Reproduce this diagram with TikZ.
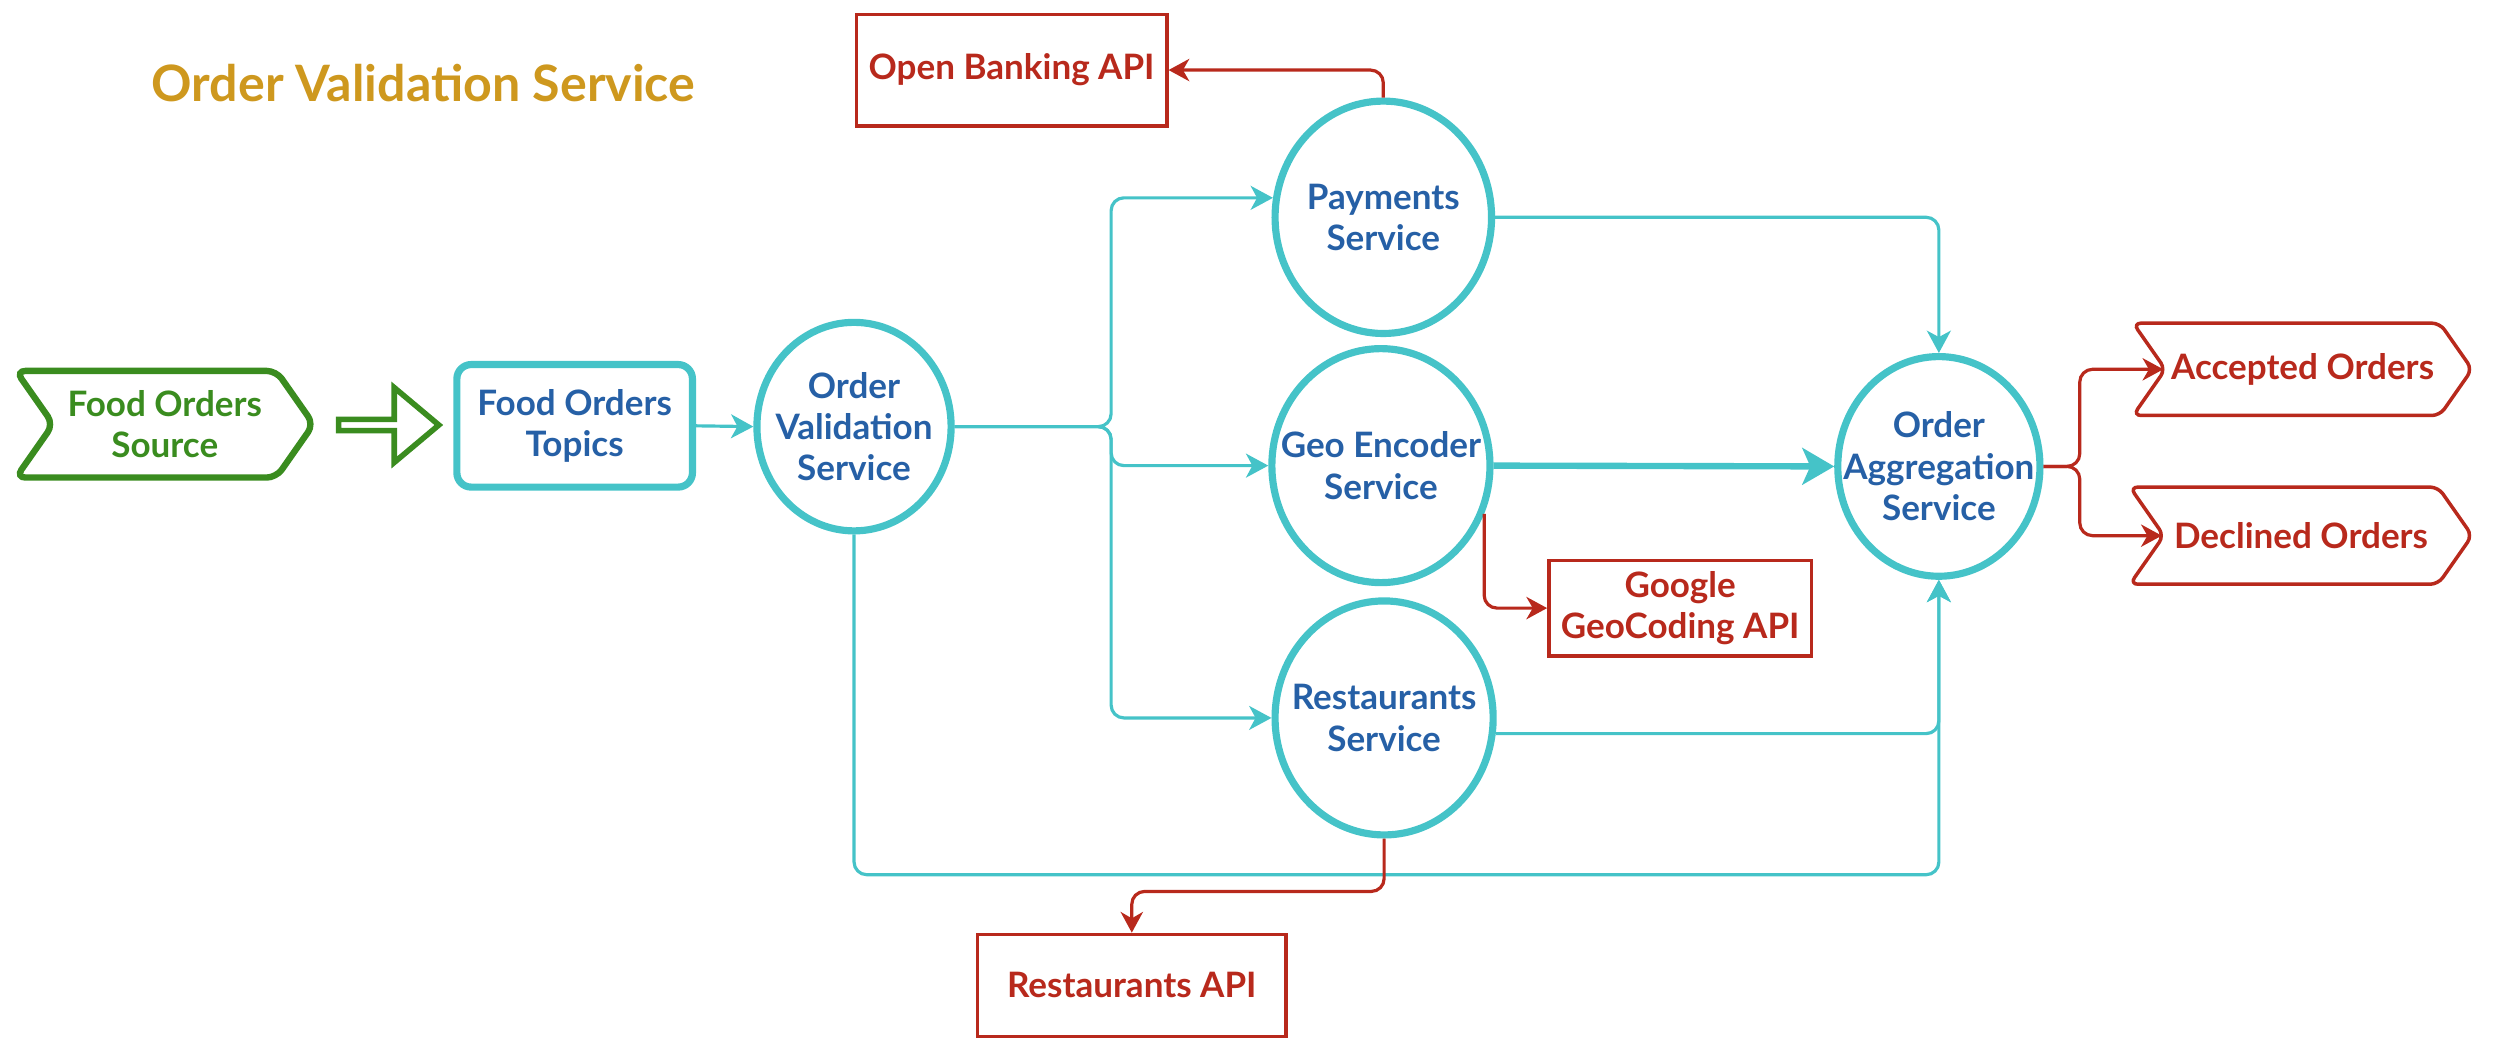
\documentclass[tikz,border=0pt]{standalone}
\usepackage{fontspec}
\setmainfont{Lato}
\usetikzlibrary{shapes.geometric,shapes.symbols,shapes.arrows,arrows.meta,calc}
\definecolor{streamteal}{HTML}{45C3C8}
\definecolor{labelblue}{HTML}{2660A6}
\definecolor{apired}{HTML}{B8291C}
\definecolor{sourcegreen}{HTML}{3A8C1F}
\definecolor{titlegold}{HTML}{CE981E}

\begin{document}
\begin{tikzpicture}[x=1pt, y=-1pt,
  every node/.style={font=\bfseries\fontsize{22}{26}\selectfont, align=center, inner sep=0pt},
  svc/.style={ellipse, draw=streamteal, line width=4.5pt, label={[text=labelblue]center:#1}},
  api/.style={rectangle, draw=apired, line width=2.2pt, text=apired},
  sink/.style={signal, signal from=west, signal to=east, signal pointer angle=110, rounded corners=5pt, draw=apired, line width=2.2pt, text=apired},
  flow/.style={draw=streamteal, line width=2pt, rounded corners=8pt, -{Stealth[length=14pt,width=15pt,inset=4pt]}},
  call/.style={draw=apired, line width=2pt, rounded corners=8pt, -{Stealth[length=13pt,width=14pt,inset=4pt]}}]
  \useasboundingbox (0,0) rectangle (1568,659);
  \node[text=titlegold, font=\bfseries\fontsize{31.5}{36}\selectfont] (title) at (266,52) {Order Validation Service};
  \node[signal, signal from=west, signal to=east, signal pointer angle=110, rounded corners=6pt, draw=sourcegreen, line width=4pt, text=sourcegreen, minimum width=187pt, minimum height=67pt] (src) at (103.5,266.5) {Food Orders\\Source};
  \node[rectangle, rounded corners=9pt, draw=streamteal, line width=4.5pt, text=labelblue, minimum width=148pt, minimum height=77pt] (topics) at (361,267.5) {Food Orders\\Topics};
  \node[single arrow, draw=sourcegreen, line width=3.5pt, minimum height=63pt, minimum width=47pt, single arrow head extend=10pt, single arrow tip angle=80] (feed) at ($(src.east)!0.5!(topics.west)$) {};
  \node[svc={Order\\Validation\\Service}, minimum width=122pt, minimum height=131pt] (ovs) at (536.5,268) {};
  \node[svc={Payments\\Service}, minimum width=136pt, minimum height=146pt] (pay) at (869,136.5) {};
  \node[svc={Geo Encoder\\Service}, minimum width=137pt, minimum height=147pt] (geo) at (867.5,292.5) {};
  \node[svc={Restaurants\\Service}, minimum width=137pt, minimum height=147pt] (rest) at (869.5,451) {};
  \node[svc={Order\\Aggregation\\Service}, minimum width=127pt, minimum height=138pt] (agg) at (1218,293) {};
  \node[api, minimum width=195pt, minimum height=70pt] (obank) at (635.5,44) {Open Banking API};
  \node[api, minimum width=165pt, minimum height=60pt] (google) at (1055.5,382) {Google\\GeoCoding API};
  \node[api, minimum width=194pt, minimum height=64pt] (rapi) at (711,619) {Restaurants API};
  \node[sink, minimum width=213pt, minimum height=58pt] (acc) at (1446.5,232) {Accepted Orders};
  \node[sink, minimum width=215pt, minimum height=61pt] (dec) at (1445.5,336.5) {Declined Orders};

  \coordinate (split) at (698,268);
  \coordinate (join) at (1306.5,293);
  \coordinate (base) at (0,549.5);
  \coordinate (drop) at (711,560);

  \draw[flow] (topics.east) -- (ovs.west);
  \draw[flow] (ovs.east) -- (split) |- (pay.170);
  \draw[flow] (ovs.east) -- (split) |- (geo.west);
  \draw[flow] (ovs.east) -- (split) |- (rest.west);
  \draw[flow] (pay.east) -| (agg.north);
  \draw[flow, line width=4pt, -{Stealth[length=20pt,width=23pt,inset=5pt]}] (geo.east) -- (agg.west);
  \draw[flow] (rest.-8) -| (agg.south);
  \draw[flow] (ovs.south) |- (base -| agg.south) -- (agg.south);
  \draw[call] (pay.north) |- (obank.east);
  \draw[call] (geo.-25) |- (google.west);
  \draw[call] (rest.south) |- (drop) -- (rapi.north);
  \draw[call] (agg.east) -- (join) |- (acc.west);
  \draw[call] (agg.east) -- (join) |- (dec.west);
\end{tikzpicture}
\end{document}
